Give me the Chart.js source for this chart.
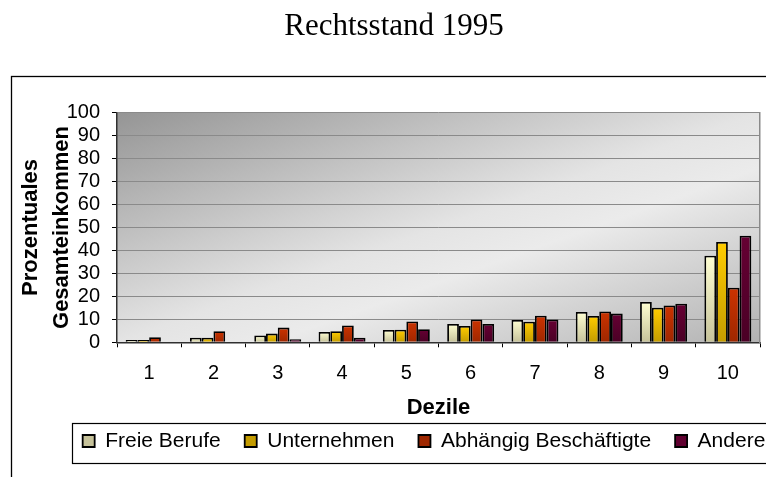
<!DOCTYPE html>
<html>
<head>
<meta charset="utf-8">
<script src="https://cdn.jsdelivr.net/npm/chart.js@4/dist/chart.umd.min.js"></script>
<style>
  html, body { margin: 0; padding: 0; background: #fff; overflow: hidden; width: 766px; height: 477px; }
  #wrap { position: absolute; left: 0; top: 0; width: 848px; height: 477px; }
  canvas { display: block; }
</style>
</head>
<body>
<div id="wrap"><canvas id="c" width="848" height="477" style="width:848px;height:477px"></canvas></div>
<script>
// ---- data ----
const categories = ['1', '2', '3', '4', '5', '6', '7', '8', '9', '10'];
const freieBerufe = [1.0, 2.0, 3.0, 4.5, 5.4, 8.0, 9.7, 13.2, 17.6, 37.7];
const unternehmen = [1.0, 2.0, 3.8, 4.8, 5.5, 7.1, 9.0, 11.5, 15.1, 43.7];
const abhaengigBeschaeftigte = [2.2, 4.8, 6.4, 7.3, 9.1, 9.9, 11.6, 13.4, 16.0, 23.8];
const andere = [0, 0, 1.3, 2.0, 5.7, 8.0, 9.9, 12.5, 16.8, 46.4];
const seriesNames = ['Freie Berufe', 'Unternehmen', 'Abhängig Beschäftigte', 'Andere'];
const chartTitle = 'Rechtsstand 1995';
const xTitle = 'Dezile';
const yTitle = ['Prozentuales', 'Gesamteinkommen'];

// ---- styles ----
const SANS = '"Liberation Sans", Arial, Helvetica, sans-serif';
const SERIF = '"Liberation Serif", "Times New Roman", serif';
const topColors = ['#FFFFD2', '#FFCC00', '#CC3300', '#660033'];
const bottomColors = ['#C6C29A', '#C49C00', '#9E2700', '#4A0025'];
const solidColors = ['#F0F0C8', '#F2C200', '#C23000', '#600030'];

function barFill(i) {
  return (ctx) => {
    const chart = ctx.chart;
    if (ctx.type !== 'data' || !chart.chartArea || !chart.scales.y) return solidColors[i];
    const ys = chart.scales.y;
    const v = ctx.parsed ? ctx.parsed.y : ctx.raw;
    const y0 = ys.getPixelForValue(0), y1 = ys.getPixelForValue(v);
    if (!isFinite(y1) || Math.abs(y0 - y1) < 1) return solidColors[i];
    const g = chart.ctx.createLinearGradient(0, y1, 0, y0);
    g.addColorStop(0, topColors[i]);
    g.addColorStop(1, bottomColors[i]);
    return g;
  };
}

const seriesValues = [freieBerufe, unternehmen, abhaengigBeschaeftigte, andere];
const datasets = seriesNames.map((name, i) => ({
  label: name,
  data: seriesValues[i],
  backgroundColor: barFill(i),
  borderColor: '#000',
  borderWidth: 1.8,
  categoryPercentage: 0.73,
  barPercentage: 1.0
}));

const TITLE_SHIFT = 30;

const decorPlugin = {
  id: 'decor',
  afterLayout(chart) {
    const t = chart.titleBlock;
    if (t) { t.left -= TITLE_SHIFT; t.right -= TITLE_SHIFT; }
  },
  beforeDraw(chart) {
    const ctx = chart.ctx, a = chart.chartArea;
    ctx.save();
    ctx.fillStyle = '#fff';
    ctx.fillRect(0, 0, chart.width, chart.height);
    // outer chart frame
    ctx.strokeStyle = '#000';
    ctx.lineWidth = 1.3;
    ctx.strokeRect(11.5, 76.5, chart.width + 50, chart.height + 50);
    // plot area gradient (diagonal in normalised coordinates)
    ctx.translate(a.left, a.top);
    ctx.scale(a.right - a.left, a.bottom - a.top);
    const g = ctx.createLinearGradient(0, 0, 1, 1);
    g.addColorStop(0, '#959595');
    g.addColorStop(0.5, '#e4e4e4');
    g.addColorStop(0.62, '#ebebeb');
    g.addColorStop(1, '#b2b2b2');
    ctx.fillStyle = g;
    ctx.fillRect(0, 0, 1, 1);
    ctx.restore();
  },
  afterDraw(chart) {
    const hb = chart.legend && chart.legend.legendHitBoxes;
    if (!hb || !hb.length) return;
    const ctx = chart.ctx;
    const first = hb[0], last = hb[hb.length - 1];
    const x0 = first.left - 11, x1 = last.left + last.width + 11;
    const cy = first.top + first.height / 2;
    ctx.save();
    ctx.strokeStyle = '#000';
    ctx.lineWidth = 1.2;
    ctx.strokeRect(Math.round(x0) + 0.5, Math.round(cy - 18.5) + 0.5, Math.round(x1 - x0), 40);
    ctx.restore();
  }
};

new Chart(document.getElementById('c'), {
  type: 'bar',
  data: { labels: categories, datasets },
  plugins: [decorPlugin],
  options: {
    responsive: false,
    animation: false,
    devicePixelRatio: 1,
    layout: { padding: { top: 0, left: 0, right: 0, bottom: 15.5 } },
    plugins: {
      tooltip: { enabled: false },
      title: {
        display: true,
        text: chartTitle,
        color: '#000',
        font: { family: SERIF, size: 31, weight: 'normal', lineHeight: 1.2 },
        padding: { top: 8, bottom: 67.5 }
      },
      legend: {
        position: 'bottom',
        align: 'center',
        labels: {
          boxWidth: 12,
          boxHeight: 12,
          padding: 24,
          color: '#000',
          font: { family: SANS, size: 21 }
        }
      }
    },
    scales: {
      x: {
        grid: { display: true, drawOnChartArea: false, drawTicks: true, tickLength: 5, tickColor: '#000', offset: true },
        border: { display: true, color: '#303030', width: 1.5 },
        ticks: { color: '#000', font: { family: SANS, size: 20 }, padding: 14 },
        title: {
          display: true, text: xTitle, color: '#000',
          font: { family: SANS, size: 22, weight: 'bold', lineHeight: 1.2 },
          padding: { top: 0, bottom: -14.7 }
        },
        afterFit(s) { s.height = 64.2; }
      },
      y: {
        min: 0, max: 100,
        ticks: { stepSize: 10, autoSkip: false, maxTicksLimit: 11, color: '#000', font: { family: SANS, size: 20, lineHeight: 1.0 }, padding: 12 },
        grid: { color: '#8a8a8a', lineWidth: 1, tickLength: 5, tickColor: '#000' },
        border: { color: '#303030', width: 1.5 },
        title: {
          display: true, text: yTitle, color: '#000',
          font: { family: SANS, size: 22, weight: 'bold', lineHeight: 1.44 },
          padding: { top: 14.6, bottom: 0 }
        },
        afterFit(s) { s.width = 117; }
      },
      yR: {
        position: 'right', display: true, min: 0, max: 100,
        ticks: { display: false },
        grid: { drawOnChartArea: false, drawTicks: false },
        border: { color: '#8a8a8a', width: 1.5 },
        afterFit(s) { s.width = 88; }
      }
    }
  }
});
</script>
</body>
</html>
